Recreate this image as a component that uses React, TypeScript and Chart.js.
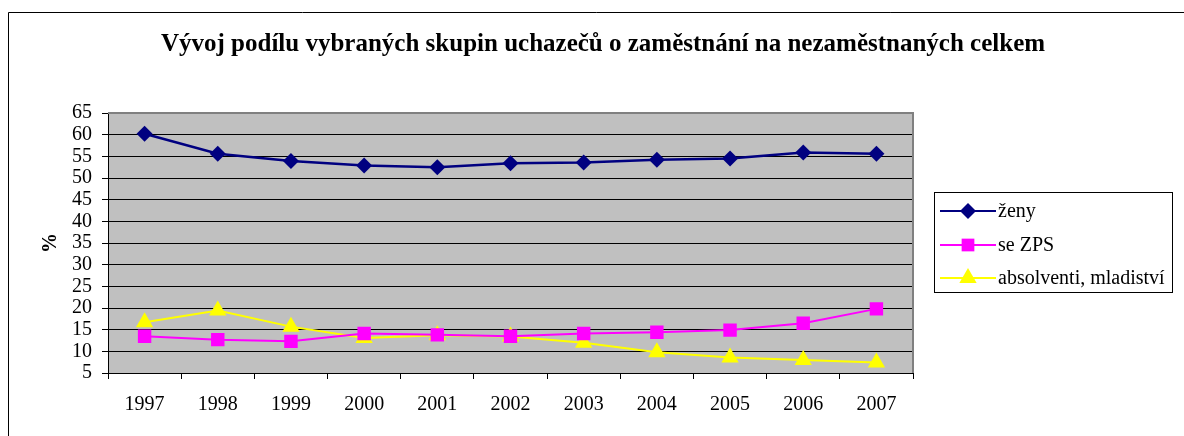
import React, { useEffect, useRef } from "react";
import { Chart, registerables } from "chart.js";

Chart.register(...registerables);

const TITLE = "Vývoj podílu vybraných skupin uchazečů o zaměstnání na nezaměstnaných celkem";
const Y_TITLE = "%";
const years = ["1997", "1998", "1999", "2000", "2001", "2002", "2003", "2004", "2005", "2006", "2007"];
const zeny = [60.2, 55.6, 53.9, 52.9, 52.5, 53.4, 53.6, 54.2, 54.5, 55.9, 55.6];
const zps = [13.5, 12.7, 12.3, 14.1, 13.8, 13.5, 14.1, 14.4, 14.9, 16.5, 19.8];
const absolventi = [16.7, 19.4, 15.7, 13.1, 13.7, 13.4, 12.0, 9.8, 8.6, 8.0, 7.4];
const seriesNames = ["ženy", "se ZPS", "absolventi, mladiství"];

const FONT = "'Liberation Serif', 'Times New Roman', serif";

function drawMarker(ctx: CanvasRenderingContext2D, style: string, x: number, y: number, r: number, color: string) {
  ctx.save();
  ctx.fillStyle = color;
  ctx.beginPath();
  if (style === "rectRot") {
    ctx.moveTo(x, y - r);
    ctx.lineTo(x + r, y);
    ctx.lineTo(x, y + r);
    ctx.lineTo(x - r, y);
  } else if (style === "rect") {
    const s = Math.SQRT1_2 * r;
    ctx.rect(x - s, y - s, 2 * s, 2 * s);
  } else {
    ctx.moveTo(x, y - r);
    ctx.lineTo(x + r * 0.866, y + r * 0.5);
    ctx.lineTo(x - r * 0.866, y + r * 0.5);
  }
  ctx.closePath();
  ctx.fill();
  ctx.restore();
}

const decorPlugin = {
  id: "decor",
  beforeDraw(chart: any) {
    const { ctx, chartArea } = chart;
    ctx.save();
    ctx.fillStyle = "#ffffff";
    ctx.fillRect(0, 0, chart.width, chart.height);
    ctx.fillStyle = "#C0C0C0";
    ctx.fillRect(chartArea.left, chartArea.top, chartArea.right - chartArea.left, chartArea.bottom - chartArea.top);
    ctx.restore();
  },
  beforeDatasetsDraw(chart: any) {
    const { ctx, chartArea } = chart;
    ctx.save();
    ctx.strokeStyle = "#808080";
    ctx.lineWidth = 2;
    ctx.beginPath();
    ctx.moveTo(chartArea.left, chartArea.top);
    ctx.lineTo(chartArea.right, chartArea.top);
    ctx.lineTo(chartArea.right, chartArea.bottom);
    ctx.stroke();
    ctx.restore();
  },
  afterDraw(chart: any) {
    const { ctx } = chart;
    ctx.save();
    // outer border
    ctx.strokeStyle = "#000000";
    ctx.lineWidth = 1;
    ctx.beginPath();
    ctx.moveTo(8.5, chart.height);
    ctx.lineTo(8.5, 12.5);
    ctx.lineTo(chart.width, 12.5);
    ctx.stroke();
    // title
    ctx.fillStyle = "#000";
    ctx.font = "bold 25px " + FONT;
    ctx.textAlign = "center";
    ctx.textBaseline = "middle";
    ctx.fillText(TITLE, 603, 45);
    // y title
    ctx.save();
    ctx.translate(51, (chart.chartArea.top + chart.chartArea.bottom) / 2);
    ctx.rotate(-Math.PI / 2);
    ctx.font = "bold 20px " + FONT;
    ctx.fillText(Y_TITLE, 0, 0);
    ctx.restore();
    // legend
    const bx = 934, by = 192, bw = 238, bh = 100;
    ctx.strokeStyle = "#000";
    ctx.lineWidth = 1;
    ctx.strokeRect(bx + 0.5, by + 0.5, bw, bh);
    const rows = [211, 245, 278];
    chart.data.datasets.forEach((ds: any, i: number) => {
      const y = rows[i];
      ctx.strokeStyle = ds.borderColor;
      ctx.lineWidth = 2;
      ctx.beginPath();
      ctx.moveTo(940, y);
      ctx.lineTo(996, y);
      ctx.stroke();
      const r = ds.pointStyle === "rectRot" ? 8 : ds.pointStyle === "rect" ? 9 : 10;
      drawMarker(ctx, ds.pointStyle, 968, y, r, ds.pointBackgroundColor);
      ctx.fillStyle = "#000";
      ctx.font = "20px " + FONT;
      ctx.textAlign = "left";
      ctx.textBaseline = "middle";
      ctx.fillText(ds.label, 998, y + 1);
    });
    ctx.restore();
  },
};

export default function App() {
  const ref = useRef<HTMLCanvasElement>(null);
  useEffect(() => {
    document.body.style.overflow = "hidden";
    const canvas = ref.current!;
    const chart = new Chart(canvas, {
      type: "line",
      data: {
        labels: years,
        datasets: [
          {
            label: seriesNames[0],
            data: zeny,
            borderColor: "#000080",
            backgroundColor: "#000080",
            pointBackgroundColor: "#000080",
            pointBorderColor: "#000080",
            pointStyle: "rectRot",
            pointRadius: 8,
            pointBorderWidth: 0,
            borderWidth: 2.5,
            tension: 0,
          },
          {
            label: seriesNames[1],
            data: zps,
            borderColor: "#FF00FF",
            backgroundColor: "#FF00FF",
            pointBackgroundColor: "#FF00FF",
            pointBorderColor: "#FF00FF",
            pointStyle: "rect",
            pointRadius: 9.5,
            pointBorderWidth: 0,
            borderWidth: 2,
            tension: 0,
          },
          {
            label: seriesNames[2],
            data: absolventi,
            borderColor: "#FFFF00",
            backgroundColor: "#FFFF00",
            pointBackgroundColor: "#FFFF00",
            pointBorderColor: "#FFFF00",
            pointStyle: "triangle",
            pointRadius: 10,
            pointBorderWidth: 0,
            borderWidth: 2,
            tension: 0,
          },
        ],
      },
      options: {
        responsive: false,
        animation: false,
        devicePixelRatio: 1,
        layout: { padding: { left: 8, top: 113, right: 271, bottom: 0 } },
        plugins: {
          legend: { display: false },
          title: { display: false },
          tooltip: { enabled: false },
        },
        scales: {
          x: {
            offset: true,
            afterFit: (s: any) => { s.height = 63; },
            grid: {
              offset: true,
              drawOnChartArea: false,
              drawTicks: true,
              tickLength: 6,
              color: "#000",
            },
            border: { color: "#000", width: 1 },
            ticks: {
              color: "#000",
              font: { family: FONT, size: 20 },
              padding: 14,
              maxRotation: 0,
              autoSkip: false,
            },
          },
          y: {
            min: 5,
            max: 65,
            afterFit: (s: any) => { s.width = 100; },
            grid: { color: "#000", lineWidth: 1, tickLength: 6, drawTicks: true },
            border: { color: "#000", width: 1 },
            ticks: {
              stepSize: 5,
              autoSkip: false,
              color: "#000",
              font: { family: FONT, size: 20 },
              padding: 10,
            },
          },
        },
      },
      plugins: [decorPlugin],
    });
    return () => chart.destroy();
  }, []);
  return (
    <canvas
      ref={ref}
      width={1184}
      height={436}
      style={{ display: "block", position: "fixed", left: 0, top: 0 }}
    />
  );
}
